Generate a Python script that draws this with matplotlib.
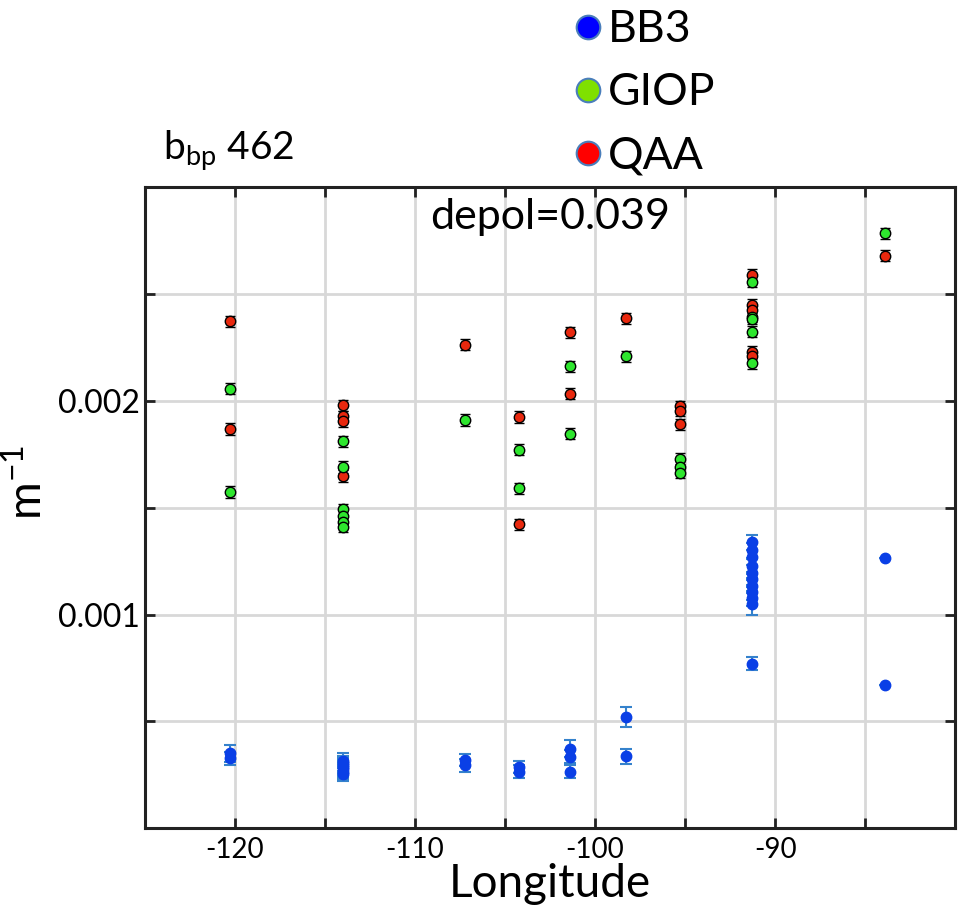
import matplotlib
matplotlib.use("Agg")
import matplotlib.pyplot as plt
from matplotlib.lines import Line2D

plt.rcParams['font.family'] = ['Lato', 'DejaVu Sans']
plt.rcParams['mathtext.fontset'] = 'custom'
plt.rcParams['mathtext.rm'] = 'Lato'
plt.rcParams['axes.unicode_minus'] = False

# BB3 measurements (values in 1e-3 m^-1)
bb3_lon = [-120.3, -120.3,
           -114.0, -114.0, -114.0, -114.0, -114.0, -114.0, -114.0,
           -107.2, -107.2, -104.2, -104.2,
           -101.4, -101.4, -101.4, -98.3, -98.3,
           -91.3, -91.3, -91.3, -91.3, -91.3, -91.3, -91.3, -91.3, -91.3, -91.3,
           -91.3, -83.9, -83.9]
bb3_val = [0.350, 0.328,
           0.315, 0.305, 0.295, 0.285, 0.275, 0.265, 0.255,
           0.319, 0.295, 0.287, 0.264,
           0.373, 0.334, 0.264, 0.521, 0.337,
           1.337, 1.300, 1.267, 1.225, 1.195, 1.165, 1.135, 1.105, 1.075, 1.050,
           0.770, 1.264, 0.668]
bb3_err = [0.040, 0.030,
           0.035, 0.035, 0.035, 0.035, 0.035, 0.035, 0.035,
           0.030, 0.030, 0.030, 0.030,
           0.040, 0.030, 0.030, 0.045, 0.036,
           0.035, 0.035, 0.035, 0.035, 0.035, 0.035, 0.035, 0.035, 0.035, 0.050,
           0.030, 0.0, 0.0]

# GIOP retrievals
giop_lon = [-120.3, -120.3,
            -114.0, -114.0, -114.0, -114.0, -114.0, -114.0,
            -107.2, -104.2, -104.2, -101.4, -101.4, -98.3,
            -95.3, -95.3, -95.3,
            -91.3, -91.3, -91.3, -91.3, -91.3, -83.9]
giop_val = [2.057, 1.573,
            1.811, 1.690, 1.492, 1.460, 1.435, 1.410,
            1.910, 1.772, 1.590, 2.161, 1.845, 2.208,
            1.729, 1.690, 1.663,
            2.557, 2.394, 2.383, 2.324, 2.176, 2.783]

# QAA retrievals
qaa_lon = [-120.3, -120.3,
           -114.0, -114.0, -114.0, -114.0,
           -107.2, -104.2, -104.2, -101.4, -101.4, -98.3,
           -95.3, -95.3, -95.3,
           -91.3, -91.3, -91.3, -91.3, -91.3, -83.9]
qaa_val = [2.371, 1.868,
           1.979, 1.928, 1.904, 1.648,
           2.262, 1.924, 1.423, 2.321, 2.034, 2.386,
           1.974, 1.954, 1.889,
           2.589, 2.449, 2.425, 2.228, 2.210, 2.679]
model_err = 0.026

x_ticks = [-120, -115, -110, -105, -100, -95, -90, -85]
x_labels = ['-120', '', '-110', '', '-100', '', '-90', '']
y_ticks = [0.0005, 0.001, 0.0015, 0.002, 0.0025]
y_labels = ['', '0.001', '', '0.002', '']

c_blue = '#0a3fe6'
c_blue_err = '#3582cc'
c_green = '#2ee62e'
c_red = '#e8280e'

fig = plt.figure(figsize=(9.63, 9.07), dpi=100)
ax = fig.add_axes([0.1506, 0.0868, 0.8412, 0.7070])

ax.errorbar(bb3_lon, [v * 1e-3 for v in bb3_val], yerr=[e * 1e-3 for e in bb3_err],
            fmt='o', ms=7.5, mfc=c_blue, mec=c_blue, ecolor=c_blue_err,
            elinewidth=1.5, capsize=4.5, capthick=1.5, zorder=3)
ax.errorbar(qaa_lon, [v * 1e-3 for v in qaa_val], yerr=model_err * 1e-3,
            fmt='o', ms=7.5, mfc=c_red, mec='black', mew=1.0, ecolor='black',
            elinewidth=1.2, capsize=3.5, capthick=1.6, zorder=3)
ax.errorbar(giop_lon, [v * 1e-3 for v in giop_val], yerr=model_err * 1e-3,
            fmt='o', ms=7.5, mfc=c_green, mec='black', mew=1.0, ecolor='black',
            elinewidth=1.2, capsize=3.5, capthick=1.6, zorder=3)

ax.set_xlim(-125, -80)
ax.set_ylim(0, 0.003)
ax.set_xticks(x_ticks)
ax.set_xticklabels(x_labels)
ax.set_yticks(y_ticks)
ax.set_yticklabels(y_labels)
ax.grid(True, color='#d8d8d8', linewidth=2)
ax.set_axisbelow(True)
ax.tick_params(direction='in', length=7, width=2, top=True, right=True,
               color='#222222', pad=6)
ax.tick_params(axis='x', labelsize=20)
ax.tick_params(axis='y', labelsize=23, pad=4)
for s in ax.spines.values():
    s.set_linewidth(2.2)
    s.set_color('#222222')

ax.set_xlabel('Longitude', fontsize=33, labelpad=0)
ax.set_ylabel(r'm$^{\mathregular{-1}}$', fontsize=33)
ax.yaxis.set_label_coords(-0.117, 0.54)
ax.text(0.5, 0.953, 'depol=0.039', transform=ax.transAxes, fontsize=31,
        ha='center', va='center')
fig.text(0.169, 0.8236, r'b$_{\mathregular{bp}}$ 462', fontsize=28, ha='left', va='baseline')

handles = [Line2D([], [], ls='none', marker='o', ms=17, mfc='#0000ff', mec='#4a7ebb', mew=1.5),
           Line2D([], [], ls='none', marker='o', ms=17, mfc='#7fe000', mec='#4a7ebb', mew=1.5),
           Line2D([], [], ls='none', marker='o', ms=17, mfc='#ff0000', mec='#4a7ebb', mew=1.5)]
fig.legend(handles, ['BB3', 'GIOP', 'QAA'], loc='upper left', bbox_to_anchor=(0.555, 1.034),
           frameon=False, fontsize=32, handlelength=0.6, handletextpad=0.15, labelspacing=0.5)

fig.savefig('out.png', dpi=100)
